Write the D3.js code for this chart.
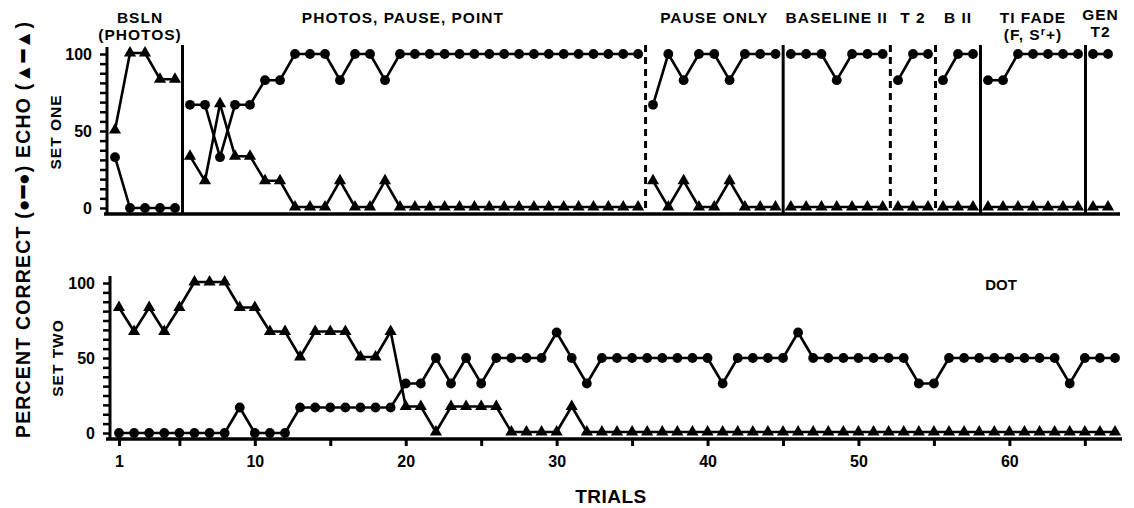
<!DOCTYPE html>
<meta charset="utf-8">
<style>
body { margin: 0; background: #fff; }
svg text { font-family: "Liberation Sans", Arial, sans-serif; font-weight: bold; fill: #000; }
</style>
<body>
<svg id="chart" width="1134" height="508"></svg>
<script src="https://d3js.org/d3.v7.min.js"></script>
<script>

var width = 1134,
    height = 508;

// trials 1..67
var trials = d3.range(1, 68);

// set one (top panel)
var setOneCorrect = [33, 0, 0, 0, 0,
    67, 67, 33, 67, 67, 83, 83, 100, 100, 100, 83, 100, 100, 83,
    100, 100, 100, 100, 100, 100, 100, 100, 100, 100, 100, 100, 100, 100, 100, 100, 100,
    67, 100, 83, 100, 100, 83, 100, 100, 100,
    100, 100, 100, 83, 100, 100, 100,
    83, 100, 100,
    83, 100, 100,
    83, 83, 100, 100, 100, 100, 100,
    100, 100];
var setOneEcho = [50, 100, 100, 83, 83,
    33, 17, 67, 33, 33, 17, 17, 0, 0, 0, 17, 0, 0, 17,
    0, 0, 0, 0, 0, 0, 0, 0, 0, 0, 0, 0, 0, 0, 0, 0, 0,
    17, 0, 17, 0, 0, 17, 0, 0, 0,
    0, 0, 0, 0, 0, 0, 0,
    0, 0, 0,
    0, 0, 0,
    0, 0, 0, 0, 0, 0, 0,
    0, 0];

// set two (bottom panel)
var setTwoCorrect = [0, 0, 0, 0, 0, 0, 0, 0, 17, 0, 0, 0, 17, 17, 17, 17, 17, 17, 17,
    33, 33, 50, 33, 50, 33, 50, 50, 50, 50, 67, 50, 33,
    50, 50, 50, 50, 50, 50, 50, 50, 33, 50, 50, 50, 50, 67,
    50, 50, 50, 50, 50, 50, 50, 33, 33,
    50, 50, 50, 50, 50, 50, 50, 50, 33, 50, 50, 50];
var setTwoEcho = [83, 67, 83, 67, 83, 100, 100, 100, 83, 83, 67, 67, 50, 67, 67, 67, 50, 50, 67,
    17, 17, 0, 17, 17, 17, 17, 0, 0, 0, 0, 17,
    0, 0, 0, 0, 0, 0, 0, 0, 0, 0, 0, 0, 0, 0, 0, 0, 0, 0,
    0, 0, 0, 0, 0, 0, 0, 0, 0, 0, 0, 0, 0, 0, 0, 0, 0, 0];

// phases of set one
var phaseNames = [["BSLN", "(PHOTOS)"], ["PHOTOS, PAUSE, POINT"], ["PAUSE ONLY"], ["BASELINE II"],
    ["T 2"], ["B II"], ["TI FADE", "(F, S|r|+)"], ["GEN", "T2"]];
var phaseStarts = [1, 6, 37, 46, 53, 56, 59, 66];
var phaseChange = ["solid", "dashed", "solid", "dashed", "dashed", "solid", "solid"];

var yLabels = [0, 50, 100];
var xTicks = [1, 5, 10, 15, 20, 25, 30, 35, 40, 45, 50, 55, 60, 65];
var xLabels = [1, 10, 20, 30, 40, 50, 60];

var svg = d3.select("#chart");

var xTop = d3.scaleLinear().domain([1, 20, 37, 53, 67]).range([115, 400, 653, 898, 1108]);
var xBot = d3.scaleLinear().domain([1, 67]).range([119, 1115]);
var yTop = d3.scaleLinear().domain([0, 100]).range([208, 54]);
var yBot = d3.scaleLinear().domain([0, 100]).range([433, 283]);

function yAxis(g, y, x0, top, bottom) {
    g.attr("transform", "translate(" + x0 + ",0)")
        .call(d3.axisLeft(y)
            .tickValues(d3.range(0, 100.1, 6.25))
            .tickSize(7)
            .tickSizeOuter(0)
            .tickPadding(8)
            .tickFormat(function(d) { return yLabels.indexOf(d) >= 0 ? d : ""; }));
    g.select(".domain").remove();
    g.selectAll(".tick line").attr("stroke", "#000").attr("stroke-width", 2.5);
    g.selectAll(".tick text").style("font-size", "16px");
    g.append("line").attr("y1", top).attr("y2", bottom)
        .attr("stroke", "#000").attr("stroke-width", 3);
}

// top panel axes
svg.append("g").call(yAxis, yTop, 107, 47, 215);
svg.append("line").attr("x1", 104).attr("x2", 1120).attr("y1", 214).attr("y2", 214)
    .attr("stroke", "#000").attr("stroke-width", 3.5);

// bottom panel axes
svg.append("g").call(yAxis, yBot, 110, 276, 440);
var xg = svg.append("g").attr("transform", "translate(0,439)")
    .call(d3.axisBottom(xBot)
        .tickValues(xTicks)
        .tickSize(7)
        .tickSizeOuter(0)
        .tickPadding(10)
        .tickFormat(function(d) { return xLabels.indexOf(d) >= 0 ? d : ""; }));
xg.select(".domain").remove();
xg.selectAll(".tick line").attr("stroke", "#000").attr("stroke-width", 3);
xg.selectAll(".tick text").style("font-size", "16px");
svg.append("line").attr("x1", 106).attr("x2", 1122).attr("y1", 439).attr("y2", 439)
    .attr("stroke", "#000").attr("stroke-width", 3.5);

// phase change lines
var phaseEnds = phaseStarts.slice(1).map(function(d) { return d - 1; }).concat([67]);
phaseChange.forEach(function(kind, i) {
    var xp = xTop(phaseStarts[i + 1] - 0.5);
    svg.append("line")
        .attr("x1", xp).attr("x2", xp)
        .attr("y1", 45).attr("y2", 214)
        .attr("stroke", "#000")
        .attr("stroke-width", 3)
        .attr("stroke-dasharray", kind === "dashed" ? "7,5" : null);
});

// phase labels
var labelNudge = {0: -5, 1: -12};
phaseNames.forEach(function(lines, i) {
    var cx = xTop((phaseStarts[i] + phaseEnds[i]) / 2) + (labelNudge[i] || 0);
    var yOff = i === phaseNames.length - 1 ? -3 : 0;
    lines.forEach(function(txt, j) {
        var t = svg.append("text")
            .attr("x", cx)
            .attr("y", 23 + j * 17 + yOff)
            .attr("text-anchor", "middle")
            .style("font-size", "15.5px")
            .style("letter-spacing", "1px");
        var parts = txt.split("|");
        if (parts.length === 1) {
            t.text(txt);
        } else {
            t.append("tspan").text(parts[0]);
            t.append("tspan").attr("dy", -5).style("font-size", "11px").text(parts[1]);
            t.append("tspan").attr("dy", 5).text(parts[2]);
        }
    });
});

// data
function drawSeries(values, x, y, shape, groups) {
    var pts = trials.map(function(t, i) { return {t: t, v: values[i]}; });
    var lift = shape === "tri" ? 1 : 0;
    var line = d3.line().x(function(d) { return x(d.t); }).y(function(d) { return y(d.v) - lift; });
    groups.forEach(function(gr) {
        var seg = pts.filter(function(d) { return d.t >= gr[0] && d.t <= gr[1]; });
        svg.append("path").datum(seg)
            .attr("d", line)
            .attr("fill", "none")
            .attr("stroke", "#000")
            .attr("stroke-width", 2.6)
            .attr("stroke-linejoin", "round");
    });
    if (shape === "dot") {
        svg.append("g").selectAll("circle").data(pts).join("circle")
            .attr("cx", function(d) { return x(d.t); })
            .attr("cy", function(d) { return y(d.v); })
            .attr("r", 4.9)
            .attr("fill", "#000");
    } else {
        svg.append("g").selectAll("path").data(pts).join("path")
            .attr("d", d3.symbol(d3.symbolTriangle, 64))
            .attr("transform", function(d) { return "translate(" + x(d.t) + "," + (y(d.v) - lift) + ")"; })
            .attr("fill", "#000");
    }
}

var topGroups = phaseStarts.map(function(s, i) { return [s, phaseEnds[i]]; });
drawSeries(setOneCorrect, xTop, yTop, "dot", topGroups);
drawSeries(setOneEcho, xTop, yTop, "tri", topGroups);
drawSeries(setTwoCorrect, xBot, yBot, "dot", [[1, 67]]);
drawSeries(setTwoEcho, xBot, yBot, "tri", [[1, 67]]);

// panel labels
svg.append("text")
    .attr("transform", "translate(61,132) rotate(-90)")
    .attr("text-anchor", "middle")
    .style("font-size", "15.5px")
    .style("letter-spacing", "1px")
    .text("SET ONE");
svg.append("text")
    .attr("transform", "translate(63,358) rotate(-90)")
    .attr("text-anchor", "middle")
    .style("font-size", "15.5px")
    .style("letter-spacing", "1px")
    .text("SET TWO");

svg.append("text")
    .attr("transform", "translate(30,230) rotate(-90)")
    .attr("text-anchor", "middle")
    .attr("textLength", 416)
    .attr("lengthAdjust", "spacing")
    .style("font-size", "19.5px")
    .text("PERCENT CORRECT (\u25CF\u2501\u25CF) ECHO (\u25B2\u2501\u25B2)");

svg.append("text")
    .attr("x", 1001).attr("y", 290)
    .attr("text-anchor", "middle")
    .style("font-size", "15px")
    .text("DOT");

svg.append("text")
    .attr("x", 611).attr("y", 503)
    .attr("text-anchor", "middle")
    .style("font-size", "19px")
    .style("letter-spacing", "0.5px")
    .text("TRIALS");

</script>
